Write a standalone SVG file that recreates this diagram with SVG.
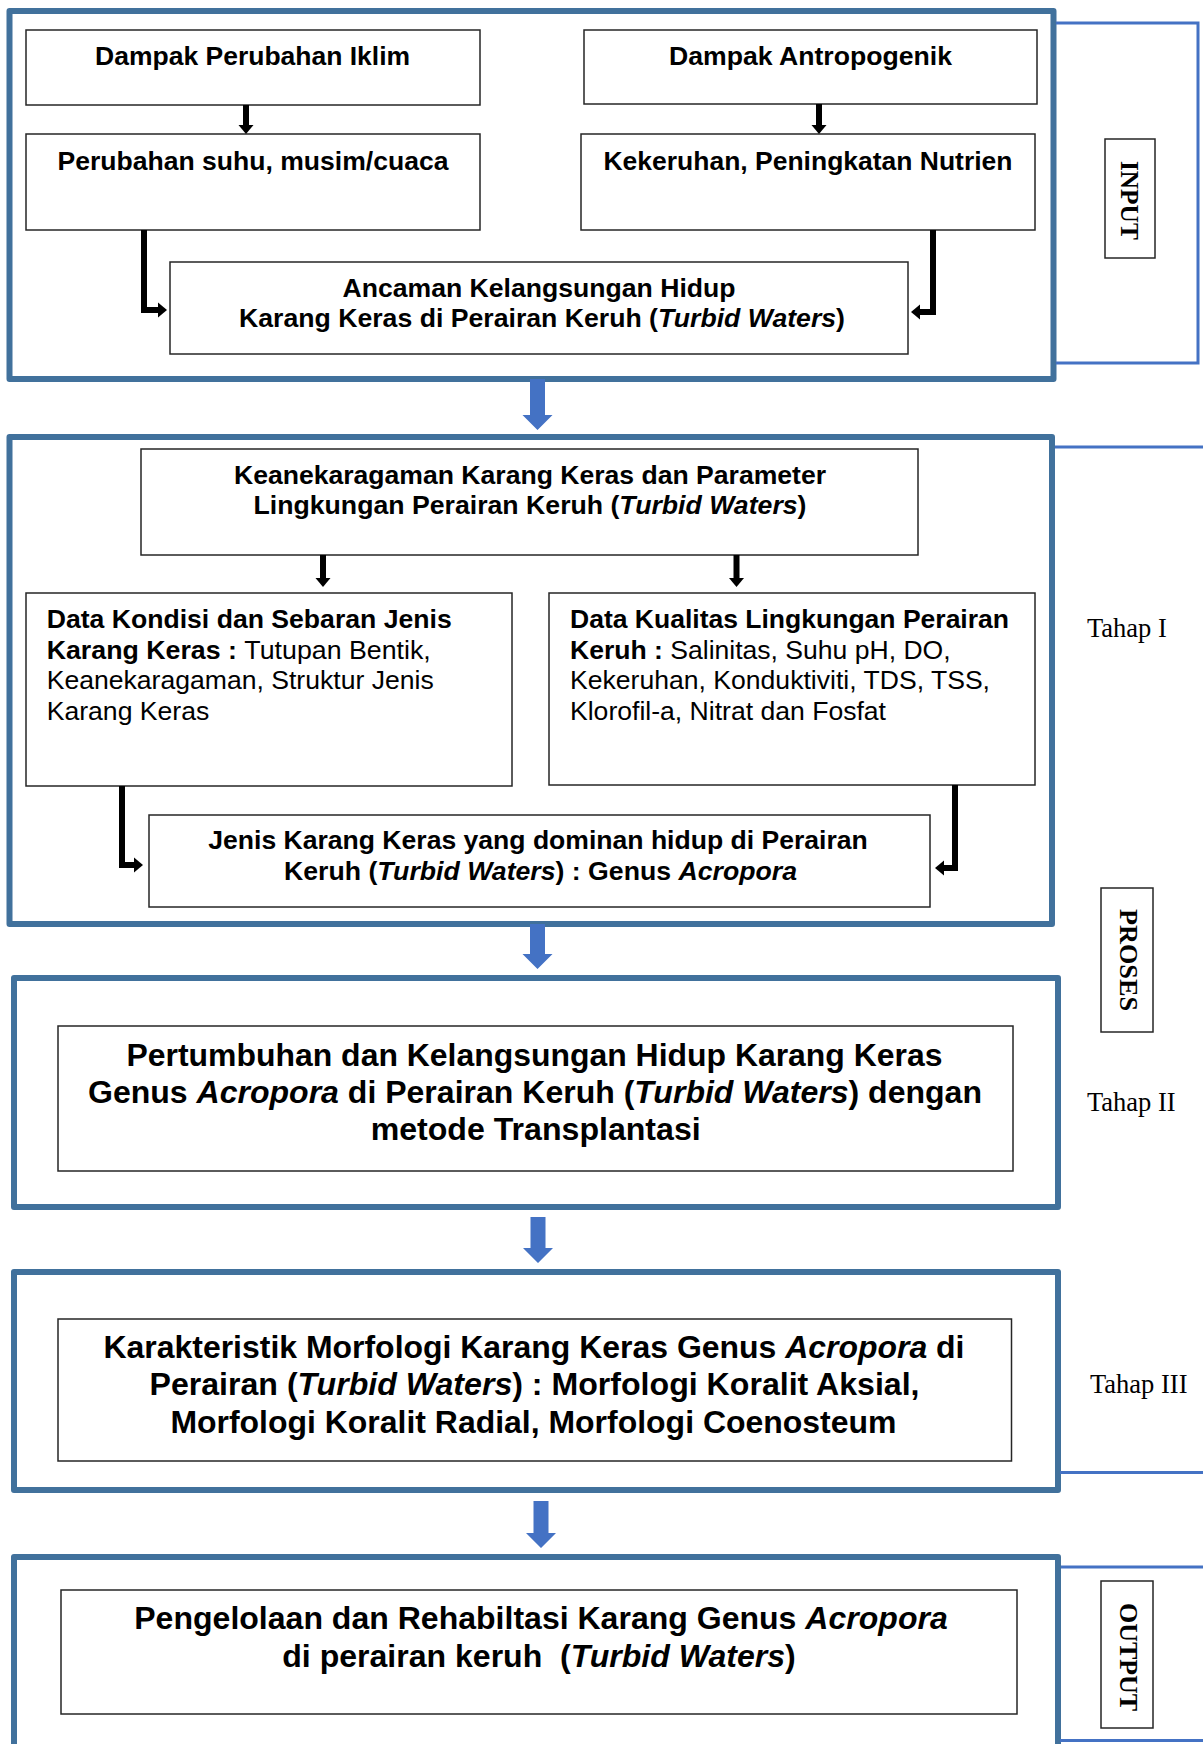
<svg xmlns="http://www.w3.org/2000/svg" width="1203" height="1744" viewBox="0 0 1203 1744">
<style>
.outer{fill:none;stroke:#41719C;stroke-width:6;stroke-linejoin:round}
.node rect{fill:#fff;stroke:#262626;stroke-width:1.5}
.t{font-family:"Liberation Sans",Arial,sans-serif;font-weight:bold;fill:#000;text-anchor:middle}
.s1{font-size:25px}
.s2{font-size:25.5px}
.s3{font-size:30.5px}
.l{text-anchor:start}
.r{font-weight:normal}
.i{font-style:italic}
.conn path{stroke:#000;stroke-width:6;fill:none}
.brk{stroke:#4472C4;stroke-width:3;fill:none}
.blue{fill:#4472C4}
.lbl{font-family:"Liberation Serif","Times New Roman",serif;font-size:26.5px;fill:#000}
.vl{font-family:"Liberation Serif","Times New Roman",serif;font-size:26px;font-weight:bold;fill:#000;text-anchor:middle}
</style>
<defs>
<marker id="ah" markerUnits="userSpaceOnUse" viewBox="0 -8 10 16" markerWidth="10" markerHeight="16" refX="0" refY="0" orient="auto"><path d="M0,-7.5 L9,0 L0,7.5 Z" fill="#000"/></marker>
</defs>
<rect width="1203" height="1744" fill="#fff"/>

<g id="containers">
<rect class="outer" x="9.5" y="11" width="1044" height="368"/>
<rect class="outer" x="9.5" y="437" width="1042.5" height="487"/>
<rect class="outer" x="14" y="978" width="1044" height="229"/>
<rect class="outer" x="14" y="1272" width="1044" height="218"/>
<rect class="outer" x="14" y="1557" width="1044" height="200"/>
</g>

<g id="brackets">
<path class="brk" d="M1056,23 H1198 V363 H1056"/>
<path class="brk" d="M1055,447 H1203"/>
<path class="brk" d="M1060,1472.5 H1203"/>
<path class="brk" d="M1061,1567 H1203"/>
<path class="brk" d="M1060,1740.5 H1203"/>
</g>

<g id="n-dampak-iklim" class="node">
<rect x="26" y="30" width="454" height="75"/>
<text class="t s1" x="252.6" y="65" textLength="315" lengthAdjust="spacingAndGlyphs">Dampak Perubahan Iklim</text>
</g>
<g id="n-dampak-antropogenik" class="node">
<rect x="584" y="30" width="453" height="74"/>
<text class="t s1" x="810.5" y="65" textLength="283" lengthAdjust="spacingAndGlyphs">Dampak Antropogenik</text>
</g>
<g id="n-perubahan-suhu" class="node">
<rect x="26" y="134" width="454" height="96"/>
<text class="t s1" x="253" y="170" textLength="391" lengthAdjust="spacingAndGlyphs">Perubahan suhu, musim/cuaca</text>
</g>
<g id="n-kekeruhan" class="node">
<rect x="581" y="134" width="454" height="96"/>
<text class="t s1" x="808" y="170" textLength="409" lengthAdjust="spacingAndGlyphs">Kekeruhan, Peningkatan Nutrien</text>
</g>
<g id="n-ancaman" class="node">
<rect x="170" y="262" width="738" height="92"/>
<text class="t s1" x="539" y="297" textLength="393" lengthAdjust="spacingAndGlyphs">Ancaman Kelangsungan Hidup</text>
<text class="t s1" x="542" y="327" textLength="606" lengthAdjust="spacingAndGlyphs">Karang Keras di Perairan Keruh (<tspan class="i">Turbid Waters</tspan>)</text>
</g>

<g id="n-keanekaragaman" class="node">
<rect x="141" y="449" width="777" height="106"/>
<text class="t s2" x="530" y="484" textLength="592" lengthAdjust="spacingAndGlyphs">Keanekaragaman Karang Keras dan Parameter</text>
<text class="t s2" x="530" y="514" textLength="553" lengthAdjust="spacingAndGlyphs">Lingkungan Perairan Keruh (<tspan class="i">Turbid Waters</tspan>)</text>
</g>
<g id="n-data-kondisi" class="node">
<rect x="26" y="593" width="486" height="193"/>
<text class="t s2 l" x="46.7" y="628" textLength="405" lengthAdjust="spacingAndGlyphs">Data Kondisi dan Sebaran Jenis</text>
<text class="t s2 l" x="46.7" y="659" textLength="384" lengthAdjust="spacingAndGlyphs">Karang Keras : <tspan class="r">Tutupan Bentik,</tspan></text>
<text class="t s2 l r" x="46.7" y="689" textLength="387" lengthAdjust="spacingAndGlyphs">Keanekaragaman, Struktur Jenis</text>
<text class="t s2 l r" x="46.7" y="720" textLength="162.6" lengthAdjust="spacingAndGlyphs">Karang Keras</text>
</g>
<g id="n-data-kualitas" class="node">
<rect x="549" y="593" width="486" height="192"/>
<text class="t s2 l" x="570" y="628" textLength="439" lengthAdjust="spacingAndGlyphs">Data Kualitas Lingkungan Perairan</text>
<text class="t s2 l" x="570" y="659" textLength="380.6" lengthAdjust="spacingAndGlyphs">Keruh : <tspan class="r">Salinitas, Suhu pH, DO,</tspan></text>
<text class="t s2 l r" x="570" y="689" textLength="420" lengthAdjust="spacingAndGlyphs">Kekeruhan, Konduktiviti, TDS, TSS,</text>
<text class="t s2 l r" x="570" y="720" textLength="316" lengthAdjust="spacingAndGlyphs">Klorofil-a, Nitrat dan Fosfat</text>
</g>
<g id="n-jenis-dominan" class="node">
<rect x="149" y="815" width="781" height="92"/>
<text class="t s2" x="538" y="849" textLength="659.5" lengthAdjust="spacingAndGlyphs">Jenis Karang Keras yang dominan hidup di Perairan</text>
<text class="t s2" x="540.5" y="880" textLength="513" lengthAdjust="spacingAndGlyphs">Keruh (<tspan class="i">Turbid Waters</tspan>) : Genus <tspan class="i">Acropora</tspan></text>
</g>

<g id="n-pertumbuhan" class="node">
<rect x="58" y="1026" width="955" height="145"/>
<text class="t s3" x="534.5" y="1066" textLength="816" lengthAdjust="spacingAndGlyphs">Pertumbuhan dan Kelangsungan Hidup Karang Keras</text>
<text class="t s3" x="535" y="1103" textLength="894" lengthAdjust="spacingAndGlyphs">Genus <tspan class="i">Acropora</tspan> di Perairan Keruh (<tspan class="i">Turbid Waters</tspan>) dengan</text>
<text class="t s3" x="535.7" y="1140" textLength="330" lengthAdjust="spacingAndGlyphs">metode Transplantasi</text>
</g>

<g id="n-karakteristik" class="node">
<rect x="58" y="1319" width="953.5" height="142"/>
<text class="t s3" x="534" y="1358" textLength="861" lengthAdjust="spacingAndGlyphs">Karakteristik Morfologi Karang Keras Genus <tspan class="i">Acropora</tspan> di</text>
<text class="t s3" x="534.5" y="1395" textLength="770" lengthAdjust="spacingAndGlyphs">Perairan (<tspan class="i">Turbid Waters</tspan>) : Morfologi Koralit Aksial,</text>
<text class="t s3" x="533.4" y="1432.7" textLength="726" lengthAdjust="spacingAndGlyphs">Morfologi Koralit Radial, Morfologi Coenosteum</text>
</g>

<g id="n-pengelolaan" class="node">
<rect x="61" y="1590" width="956" height="124"/>
<text class="t s3" x="541" y="1629" textLength="813.5" lengthAdjust="spacingAndGlyphs">Pengelolaan dan Rehabiltasi Karang Genus <tspan class="i">Acropora</tspan></text>
<text class="t s3" x="539" y="1666.7" textLength="513.5" lengthAdjust="spacingAndGlyphs" xml:space="preserve">di perairan keruh  (<tspan class="i">Turbid Waters</tspan>)</text>
</g>

<g id="n-input" class="node">
<rect x="1105" y="139" width="50" height="119"/>
<text class="vl" transform="translate(1121,200.4) rotate(90)" x="0" y="0" textLength="79" lengthAdjust="spacingAndGlyphs">INPUT</text>
</g>
<g id="n-proses" class="node">
<rect x="1101" y="888" width="52" height="144"/>
<text class="vl" transform="translate(1120,960) rotate(90)" x="0" y="0" textLength="102" lengthAdjust="spacingAndGlyphs">PROSES</text>
</g>
<g id="n-output" class="node">
<rect x="1101" y="1581" width="52" height="147"/>
<text class="vl" transform="translate(1120,1657) rotate(90)" x="0" y="0" textLength="108" lengthAdjust="spacingAndGlyphs">OUTPUT</text>
</g>

<g id="stage-labels">
<text class="lbl" x="1087" y="637">Tahap I</text>
<text class="lbl" x="1087" y="1111">Tahap II</text>
<text class="lbl" x="1090" y="1393">Tahap III</text>
</g>

<g id="connectors" class="conn">
<path d="M246,105 V125" marker-end="url(#ah)"/>
<path d="M819,104 V125" marker-end="url(#ah)"/>
<path d="M144,230 V310 H158" marker-end="url(#ah)"/>
<path d="M933,230 V312 H920" marker-end="url(#ah)"/>
<path d="M323,555 V578" marker-end="url(#ah)"/>
<path d="M736.5,555 V578" marker-end="url(#ah)"/>
<path d="M122,786 V865 H134" marker-end="url(#ah)"/>
<path d="M955,785 V868 H944" marker-end="url(#ah)"/>
<polygon class="blue" points="530,379 545,379 545,415 552.5,415 537.5,430 522.5,415 530,415"/>
<polygon class="blue" points="530,924 545,924 545,954 552.5,954 537.5,969 522.5,954 530,954"/>
<polygon class="blue" points="530.5,1217 545.5,1217 545.5,1248 553,1248 538,1263 523,1248 530.5,1248"/>
<polygon class="blue" points="533.5,1501 548.5,1501 548.5,1533 556,1533 541,1548 526,1533 533.5,1533"/>
</g>
</svg>
